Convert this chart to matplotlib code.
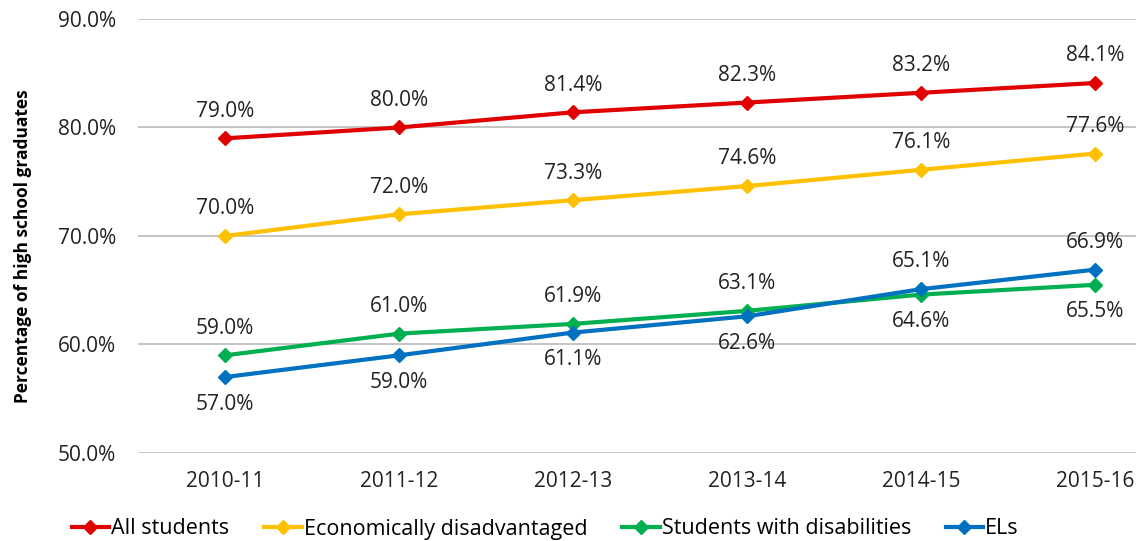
import matplotlib.pyplot as plt
from matplotlib.ticker import FuncFormatter

plt.rcParams['font.family'] = ['Open Sans', 'DejaVu Sans']

years = ['2010-11', '2011-12', '2012-13', '2013-14', '2014-15', '2015-16']
all_students = [79.0, 80.0, 81.4, 82.3, 83.2, 84.1]
econ_disadv = [70.0, 72.0, 73.3, 74.6, 76.1, 77.6]
disabilities = [59.0, 61.0, 61.9, 63.1, 64.6, 65.5]
els = [57.0, 59.0, 61.1, 62.6, 65.1, 66.9]

# label placement: 1 = above, -1 = below
disab_pos = [1, 1, 1, 1, -1, -1]
els_pos = [-1, -1, -1, -1, 1, 1]

series = [
    ('All students', all_students, '#E00000', [1] * 6),
    ('Economically disadvantaged', econ_disadv, '#FFC000', [1] * 6),
    ('Students with disabilities', disabilities, '#00B050', disab_pos),
    ('ELs', els, '#0070C0', els_pos),
]

fig = plt.figure(figsize=(11.36, 5.41), dpi=100)
ax = fig.add_axes([138 / 1136, 1 - 453 / 541, 1 - 138 / 1136, (453 - 19) / 541])

x = list(range(len(years)))
for name, vals, col, pos in series:
    ax.plot(x, vals, color=col, lw=3, marker='D', ms=7, label=name, zorder=3)
    for xi, v, p in zip(x, vals, pos):
        ax.annotate(f'{v:.1f}%', (xi, v), xytext=(0, 12 * p), textcoords='offset points',
                    ha='center', va='bottom' if p > 0 else 'top', fontsize=15, color='#222222')

ax.set_xlim(-0.5, (1136 - 225) / 174)
ax.set_ylim(50, 90)
ax.set_yticks([50, 60, 70, 80, 90])
ax.yaxis.set_major_formatter(FuncFormatter(lambda v, _: f'{v:.1f}%'))
ax.set_xticks(x)
ax.set_xticklabels(years)
ax.grid(axis='y', color='#BFBFBF', lw=1.3)
ax.set_axisbelow(True)
for s in ax.spines.values():
    s.set_visible(False)
ax.tick_params(length=0, labelsize=15, colors='#222222')
ax.tick_params(axis='x', pad=13)
ax.tick_params(axis='y', pad=16)
ax.set_ylabel('Percentage of high school graduates', fontsize=12.5, fontweight='bold')
ax.yaxis.set_label_coords(-0.106, 0.477)

fig.legend(loc='center', ncol=4, frameon=False, fontsize=15.5,
           bbox_to_anchor=(0.48, 12 / 541), handlelength=1.75, handletextpad=0.1,
           columnspacing=1.6)

fig.savefig('out.png', dpi=100)
